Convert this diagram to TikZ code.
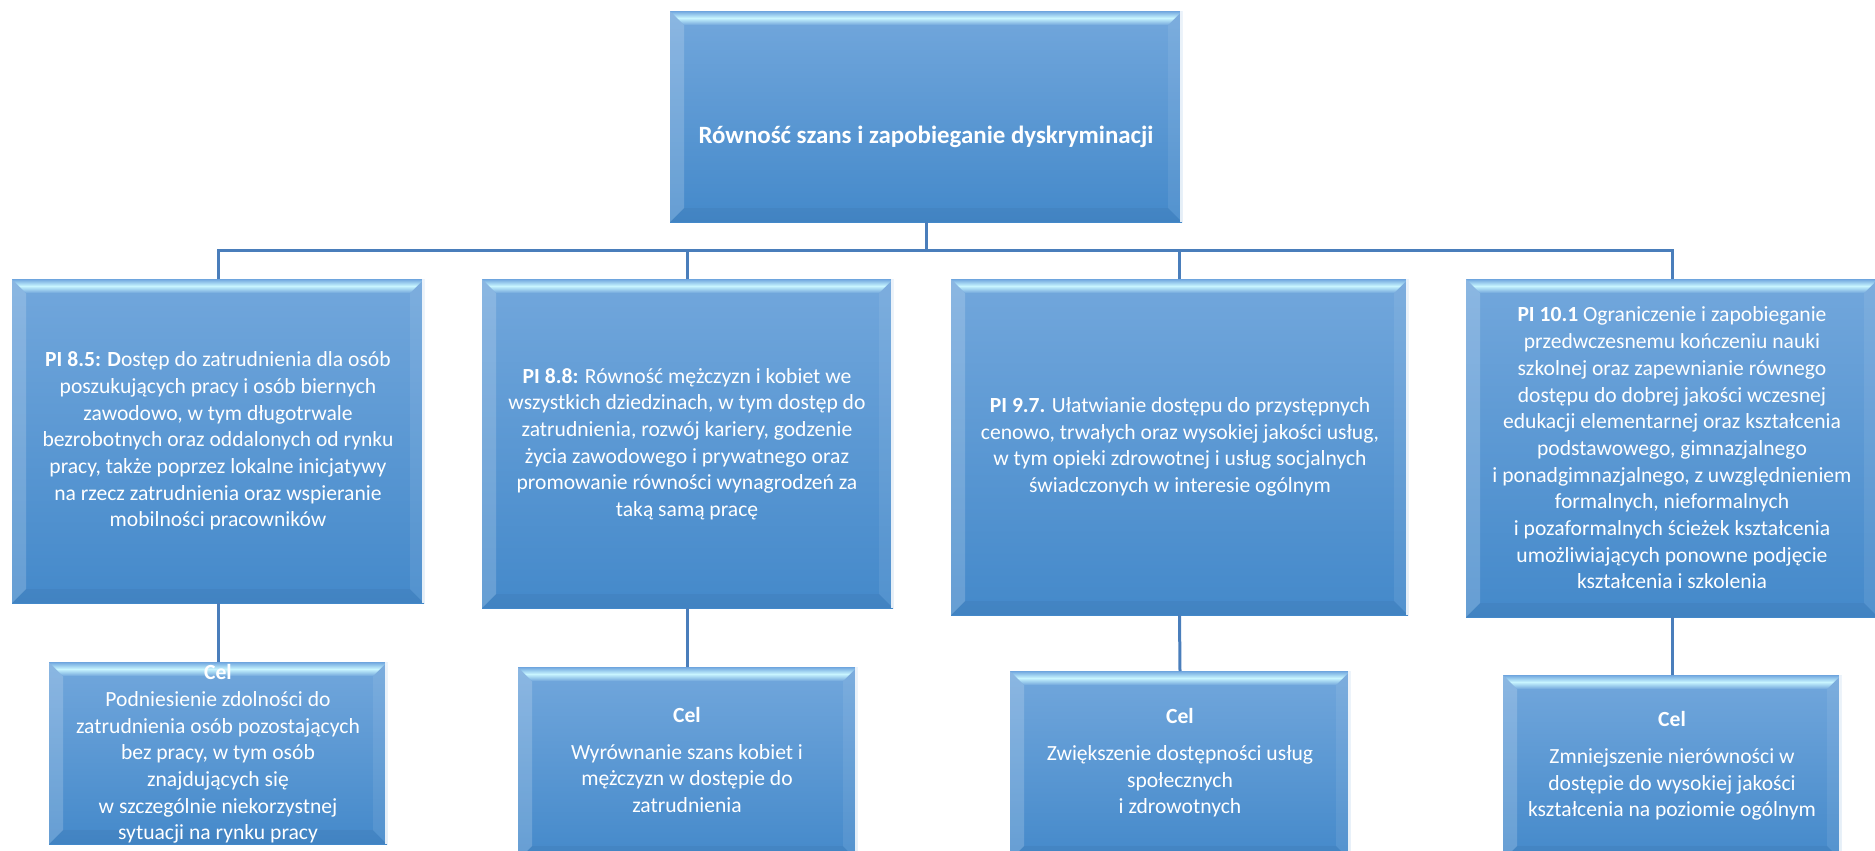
\documentclass[tikz,border=0pt]{standalone}
\usepackage{fontspec}
\setmainfont{Carlito}
\definecolor{linec}{RGB}{74,126,187}
\definecolor{ftop}{RGB}{114,167,220}
\definecolor{fbot}{RGB}{68,137,202}
\definecolor{bevlight}{RGB}{200,245,255}
\definecolor{bevedge}{RGB}{110,165,222}
\tikzset{
  conn/.style={draw=linec, line width=1.5pt},
  bevbox/.style={rectangle, inner sep=0pt, outer sep=0pt, top color=ftop, bottom color=fbot, draw=none,
    path picture={
      \coordinate (pnw) at (path picture bounding box.north west);
      \coordinate (pne) at (path picture bounding box.north east);
      \coordinate (psw) at (path picture bounding box.south west);
      \coordinate (pse) at (path picture bounding box.south east);
      \fill[white, opacity=0.18] (pnw) -- ([xshift=7pt,yshift=-7pt]pnw) -- ([xshift=7pt,yshift=7pt]psw) -- (psw) -- cycle;
      \fill[black, opacity=0.04] (psw) -- ([xshift=7pt,yshift=7pt]psw) -- ([xshift=-7pt,yshift=7pt]pse) -- (pse) -- cycle;
      \fill[white, opacity=0.08] (pne) -- ([xshift=-7pt,yshift=-7pt]pne) -- ([xshift=-7pt,yshift=7pt]pse) -- (pse) -- cycle;
      \shade[top color=bevedge, bottom color=ftop, middle color=bevlight] (pnw) -- (pne) -- ([xshift=-7pt,yshift=-7pt]pne) -- ([xshift=7pt,yshift=-7pt]pnw) -- cycle;
      \draw[white, opacity=0.85, line width=0.8pt] ([xshift=-0.5pt]pne) -- ([xshift=-0.5pt]pse);
    }},
  txt/.style={text=white, align=center, inner sep=0pt, font=\fontsize{10.8}{13.35}\selectfont},
  celtxt/.style={txt},
}
\newcommand\bbox[5]{\node[bevbox, minimum width={(#4-#2)*0.5pt}, minimum height={(#5-#3)*0.5pt}] (#1) at ({(#2+#4)/2},{(#3+#5)/2}) {};}
\begin{document}
\begin{tikzpicture}[x=0.5pt, y=-0.5pt]
\useasboundingbox (0,0) rectangle (1875,851);
% boxes
\bbox{t}{670}{11}{1182}{222}
\bbox{b1}{12}{279}{424}{603}
\bbox{b2}{482}{279}{893}{608}
\bbox{b3}{951}{279}{1408}{615}
\bbox{b4}{1466}{279}{1878}{617}
\bbox{c1}{49}{662}{387}{844}
\bbox{c2}{518}{667}{857}{860}
\bbox{c3}{1010}{671}{1350}{860}
\bbox{c4}{1503}{675}{1841}{860}
% connectors
\coordinate (bus) at (926,250);
\draw[conn] (t.south) -- (bus);
\draw[conn] (bus) -| (b1.north);
\draw[conn] (bus) -| (b2.north);
\draw[conn] (bus) -| (b3.north);
\draw[conn] (bus) -| (b4.north);
\draw[conn] (b1.south) -- (c1.north);
\draw[conn] (b2.south) -- (c2.north);
\draw[conn] (b3.south) -- (c3.north);
\draw[conn] (b4.south) -- (c4.north);
% texts
\node[txt, font=\fontsize{12.45}{14}\selectfont\bfseries] (tt) at (926,137) {Równość szans i zapobieganie dyskryminacji};
\node[txt] (b1t) at (218,441) {{\bfseries PI 8.5: D}ostęp do zatrudnienia dla osób\\
poszukujących pracy i osób biernych\\
zawodowo, w tym długotrwale\\
bezrobotnych oraz oddalonych od rynku\\
pracy, także poprzez lokalne inicjatywy\\
na rzecz zatrudnienia oraz wspieranie\\
mobilności pracowników};
\node[txt] (b2t) at (687,444) {{\bfseries PI 8.8:} Równość mężczyzn i kobiet we\\
wszystkich dziedzinach, w tym dostęp do\\
zatrudnienia, rozwój kariery, godzenie\\
życia zawodowego i prywatnego oraz\\
promowanie równości wynagrodzeń za\\
taką samą pracę};
\node[txt] (b3t) at (1180,447) {{\bfseries PI 9.7.} Ułatwianie dostępu do przystępnych\\
cenowo, trwałych oraz wysokiej jakości usług,\\
w tym opieki zdrowotnej i usług socjalnych\\
świadczonych w interesie ogólnym};
\node[txt] (b4t) at (1672,448) {{\bfseries PI 10.1} Ograniczenie i zapobieganie\\
przedwczesnemu kończeniu nauki\\
szkolnej oraz zapewnianie równego\\
dostępu do dobrej jakości wczesnej\\
edukacji elementarnej oraz kształcenia\\
podstawowego, gimnazjalnego\\
i ponadgimnazjalnego, z uwzględnieniem\\
formalnych, nieformalnych\\
i pozaformalnych ścieżek kształcenia\\
umożliwiających ponowne podjęcie\\
kształcenia i szkolenia};
\node[celtxt] (c1t) at (218,754) {{\bfseries Cel}\\
Podniesienie zdolności do\\
zatrudnienia osób pozostających\\
bez pracy, w tym osób\\
znajdujących się\\
w szczególnie niekorzystnej\\
sytuacji na rynku pracy};
\node[celtxt] (c2t) at (687,760) {{\bfseries Cel}\\[5pt]
Wyrównanie szans kobiet i\\
mężczyzn w dostępie do\\
zatrudnienia};
\node[celtxt] (c3t) at (1180,763) {{\bfseries Cel}\\[5pt]
Zwiększenie dostępności usług\\
społecznych\\
i zdrowotnych};
\node[celtxt] (c4t) at (1672,766) {{\bfseries Cel}\\[5pt]
Zmniejszenie nierówności w\\
dostępie do wysokiej jakości\\
kształcenia na poziomie ogólnym};
\end{tikzpicture}
\end{document}
